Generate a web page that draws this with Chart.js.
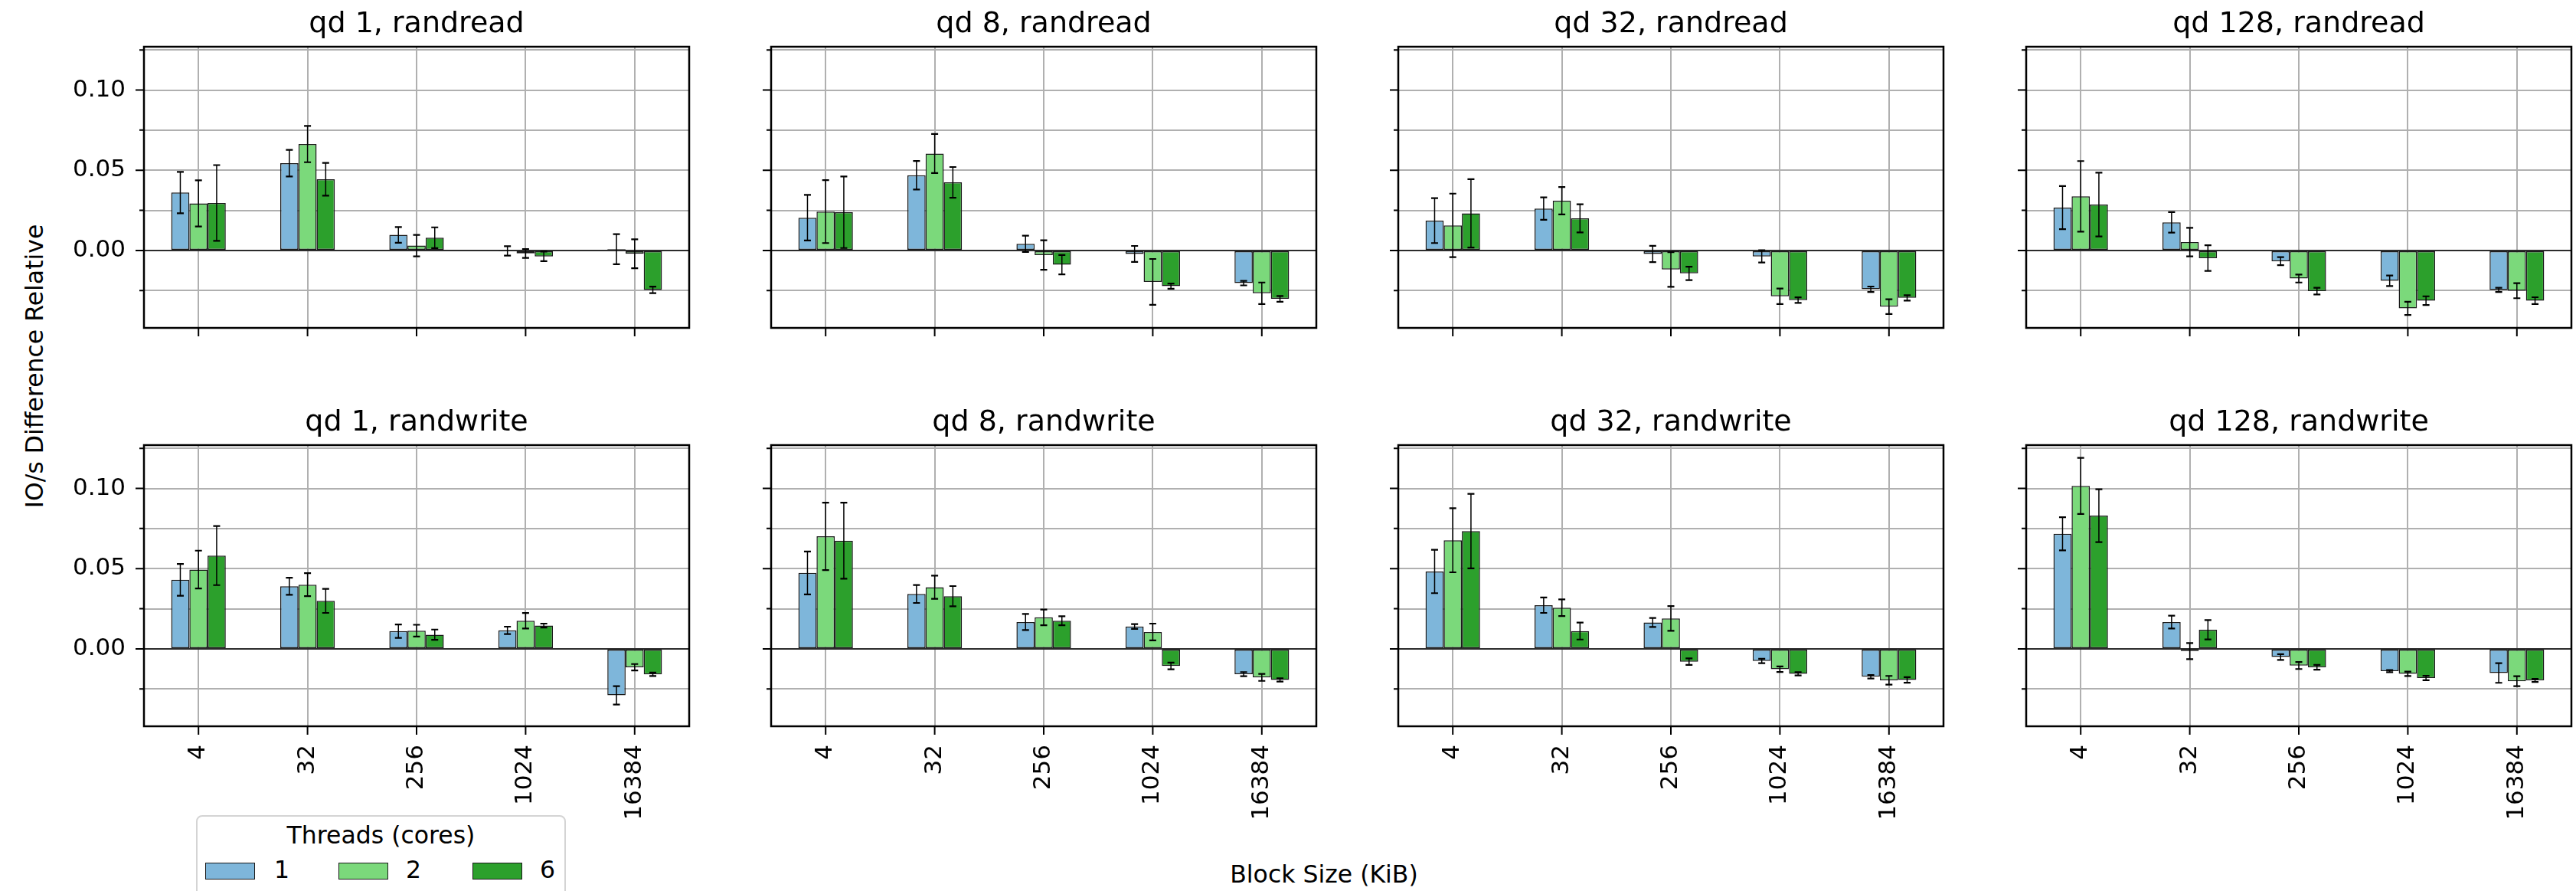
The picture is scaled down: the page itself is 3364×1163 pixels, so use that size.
<!DOCTYPE html>
<html>
<head>
<meta charset="utf-8">
<title>IO/s Difference Relative</title>
<script src="https://cdn.jsdelivr.net/npm/chart.js@4.4.1/dist/chart.umd.min.js"></script>
<style>
    body { margin: 0; background: #fff; }
    #fig {
        position: relative;
        width: 3364px;
        height: 1163px;
        overflow: hidden;
        background: #fff;
        font-family: 'DejaVu Sans', sans-serif;
        color: #000;
    }
    #fig canvas { position: absolute; }
    .txt {
        position: absolute;
        white-space: nowrap;
        font-size: 31.5px;
        line-height: 31.5px;
    }
    #legend {
        position: absolute;
        left: 256px;
        top: 1064px;
        width: 483px;
        height: 140px;
        border: 2px solid #d4d4d4;
        border-radius: 8px;
        box-sizing: border-box;
        background: #fff;
    }
    .patch {
        position: absolute;
        top: 60px;
        width: 65px;
        height: 22px;
        border: 1.5px solid #1a1a1a;
        box-sizing: border-box;
    }
</style>
</head>
<body>
<div id="fig">
    <div class="txt" id="ylabel" style="left:46px; top:478px; transform: translate(-50%, -50%) rotate(-90deg);">IO/s Difference Relative</div>
    <div class="txt" id="xlabel" style="left:1729px; top:1126px; transform: translateX(-50%);">Block Size (KiB)</div>
    <div id="legend">
        <div class="txt" style="left:0; width:100%; top:9px; text-align:center;">Threads (cores)</div>
    </div>
</div>

<script>
// categories / series
const blockSizes = ['4', '32', '256', '1024', '16384'];
const threadCounts = ['1', '2', '6'];
const queueDepths = [1, 8, 32, 128];
const workloads = ['randread', 'randwrite'];
const barColors = ['#7eb6da', '#7bd97b', '#2ca02c'];

// shared y axis
const yMin = -0.0483;
const yMax = 0.127;
const yStep = 0.025;
const yLabelStep = 0.05;

// values: one row per thread count (1, 2, 6), one column per block size
const readQd1 = [
    [0.0361, 0.0544, 0.0097, -0.0003, 0.0008],
    [0.0293, 0.0663, 0.0030, -0.0019, -0.0021],
    [0.0296, 0.0444, 0.0079, -0.0037, -0.0246]
];
const readQd1Err = [
    [0.0129, 0.0083, 0.0049, 0.0029, 0.0094],
    [0.0144, 0.0113, 0.0067, 0.0028, 0.0090],
    [0.0236, 0.0102, 0.0065, 0.0030, 0.0020]
];
const readQd8 = [
    [0.0204, 0.0469, 0.0041, -0.0022, -0.0204],
    [0.0242, 0.0604, -0.0029, -0.0196, -0.0267],
    [0.0238, 0.0424, -0.0089, -0.0223, -0.0302]
];
const readQd8Err = [
    [0.0142, 0.0089, 0.0051, 0.0050, 0.0014],
    [0.0196, 0.0122, 0.0092, 0.0143, 0.0067],
    [0.0223, 0.0096, 0.0060, 0.0016, 0.0018]
];
const readQd32 = [
    [0.0186, 0.0261, -0.0022, -0.0037, -0.0242],
    [0.0156, 0.0310, -0.0119, -0.0286, -0.0350],
    [0.0231, 0.0200, -0.0143, -0.0310, -0.0296]
];
const readQd32Err = [
    [0.0140, 0.0070, 0.0051, 0.0038, 0.0017],
    [0.0198, 0.0085, 0.0108, 0.0048, 0.0046],
    [0.0213, 0.0088, 0.0042, 0.0017, 0.0017]
];
const readQd128 = [
    [0.0267, 0.0175, -0.0067, -0.0189, -0.0246],
    [0.0337, 0.0052, -0.0175, -0.0361, -0.0251],
    [0.0286, -0.0048, -0.0254, -0.0313, -0.0313]
];
const readQd128Err = [
    [0.0134, 0.0064, 0.0025, 0.0033, 0.0013],
    [0.0220, 0.0089, 0.0025, 0.0041, 0.0047],
    [0.0199, 0.0080, 0.0021, 0.0027, 0.0021]
];
const writeQd1 = [
    [0.0430, 0.0390, 0.0110, 0.0115, -0.0290],
    [0.0494, 0.0400, 0.0113, 0.0175, -0.0115],
    [0.0581, 0.0299, 0.0088, 0.0145, -0.0159]
];
const writeQd1Err = [
    [0.0099, 0.0053, 0.0042, 0.0023, 0.0057],
    [0.0118, 0.0072, 0.0037, 0.0048, 0.0020],
    [0.0184, 0.0075, 0.0032, 0.0012, 0.0011]
];
const writeQd8 = [
    [0.0473, 0.0342, 0.0167, 0.0139, -0.0158],
    [0.0701, 0.0384, 0.0196, 0.0105, -0.0178],
    [0.0674, 0.0328, 0.0175, -0.0107, -0.0194]
];
const writeQd8Err = [
    [0.0134, 0.0056, 0.0050, 0.0015, 0.0013],
    [0.0210, 0.0072, 0.0049, 0.0052, 0.0022],
    [0.0237, 0.0063, 0.0028, 0.0021, 0.0010]
];
const writeQd32 = [
    [0.0482, 0.0272, 0.0164, -0.0076, -0.0174],
    [0.0677, 0.0256, 0.0189, -0.0127, -0.0196],
    [0.0734, 0.0111, -0.0080, -0.0156, -0.0194]
];
const writeQd32Err = [
    [0.0135, 0.0048, 0.0028, 0.0014, 0.0011],
    [0.0200, 0.0052, 0.0077, 0.0017, 0.0027],
    [0.0232, 0.0053, 0.0020, 0.0010, 0.0017]
];
const writeQd128 = [
    [0.0717, 0.0167, -0.0051, -0.0139, -0.0151],
    [0.1016, -0.0014, -0.0104, -0.0156, -0.0202],
    [0.0830, 0.0119, -0.0115, -0.0182, -0.0197]
];
const writeQd128Err = [
    [0.0103, 0.0040, 0.0018, 0.0007, 0.0061],
    [0.0175, 0.0050, 0.0022, 0.0014, 0.0031],
    [0.0165, 0.0060, 0.0015, 0.0014, 0.0010]
];

const panelValues = [
    [readQd1, readQd8, readQd32, readQd128],
    [writeQd1, writeQd8, writeQd32, writeQd128]
];
const panelErrors = [
    [readQd1Err, readQd8Err, readQd32Err, readQd128Err],
    [writeQd1Err, writeQd8Err, writeQd32Err, writeQd128Err]
];

// layout of the 2x4 grid (plot area in page pixels)
const areaLefts = [188, 1007, 1826, 2646];
const areaTops = [61, 581];
const areaWidth = 712;
const areaHeight = 367;
const marginLeft = 170;
const marginTop = 60;
const marginRight = 20;
const marginBottom = [30, 200];

Chart.defaults.font.family = "'DejaVu Sans', sans-serif";
Chart.defaults.font.size = 31;
Chart.defaults.color = '#000';

function isMajor(v) {
    const r = v / yLabelStep;
    return Math.abs(r - Math.round(r)) < 1e-6;
}

// spines, tick marks, zero line, error bars and the subplot title
const axesDecor = {
    id: 'axesDecor',
    afterDatasetsDraw(chart) {
        const { ctx, chartArea: a, scales: { y } } = chart;
        ctx.save();
        const y0 = y.getPixelForValue(0);
        ctx.strokeStyle = '#000';
        ctx.lineWidth = 1.5;
        ctx.beginPath();
        ctx.moveTo(a.left, y0);
        ctx.lineTo(a.right, y0);
        ctx.stroke();

        chart.data.datasets.forEach((ds, i) => {
            chart.getDatasetMeta(i).data.forEach((bar, j) => {
                const v = ds.data[j];
                const e = ds.errors[j];
                const top = y.getPixelForValue(v + e);
                const bot = y.getPixelForValue(v - e);
                ctx.lineWidth = 1.5;
                ctx.beginPath();
                ctx.moveTo(bar.x, top);
                ctx.lineTo(bar.x, bot);
                ctx.stroke();
                ctx.lineWidth = 2.2;
                ctx.beginPath();
                ctx.moveTo(bar.x - 4.5, top);
                ctx.lineTo(bar.x + 4.5, top);
                ctx.moveTo(bar.x - 4.5, bot);
                ctx.lineTo(bar.x + 4.5, bot);
                ctx.stroke();
            });
        });
        ctx.restore();
    },
    afterDraw(chart, args, opts) {
        const { ctx, chartArea: a, scales: { x, y } } = chart;
        ctx.save();
        ctx.strokeStyle = '#000';
        ctx.lineWidth = 2;
        ctx.beginPath();
        y.ticks.forEach(t => {
            const py = y.getPixelForValue(t.value);
            const len = isMajor(t.value) ? 11 : 6;
            ctx.moveTo(a.left - len, py);
            ctx.lineTo(a.left, py);
        });
        blockSizes.forEach((b, i) => {
            const px = x.getPixelForValue(i);
            ctx.moveTo(px, a.bottom);
            ctx.lineTo(px, a.bottom + 11);
        });
        ctx.stroke();

        ctx.lineWidth = 2.5;
        ctx.strokeRect(a.left, a.top, a.right - a.left, a.bottom - a.top);

        ctx.fillStyle = '#000';
        ctx.font = "38px 'DejaVu Sans', sans-serif";
        ctx.textAlign = 'center';
        ctx.textBaseline = 'alphabetic';
        ctx.fillText(opts.title, (a.left + a.right) / 2, a.top - 19);
        ctx.restore();
    }
};

function makePanel(row, col) {
    const fig = document.getElementById('fig');
    const canvas = document.createElement('canvas');
    const w = marginLeft + areaWidth + marginRight;
    const h = marginTop + areaHeight + marginBottom[row];
    canvas.width = w;
    canvas.height = h;
    canvas.style.left = (areaLefts[col] - marginLeft) + 'px';
    canvas.style.top = (areaTops[row] - marginTop) + 'px';
    canvas.style.width = w + 'px';
    canvas.style.height = h + 'px';
    fig.appendChild(canvas);

    const vals = panelValues[row][col];
    const errs = panelErrors[row][col];
    const gridStyle = { color: '#b0b0b0', lineWidth: 2, drawTicks: false };

    return new Chart(canvas, {
        type: 'bar',
        data: {
            labels: blockSizes,
            datasets: threadCounts.map((t, i) => ({
                label: t,
                data: vals[i],
                errors: errs[i],
                backgroundColor: barColors[i],
                borderColor: '#1a1a1a',
                borderWidth: 1.5,
                borderSkipped: false,
                categoryPercentage: 0.5,
                barPercentage: 1.0
            }))
        },
        options: {
            responsive: false,
            animation: false,
            devicePixelRatio: 1,
            layout: { padding: { left: 0, top: marginTop, right: marginRight, bottom: 0 } },
            plugins: {
                legend: { display: false },
                tooltip: { enabled: false },
                axesDecor: { title: 'qd ' + queueDepths[col] + ', ' + workloads[row] }
            },
            scales: {
                x: {
                    grid: Object.assign({ offset: false }, gridStyle),
                    border: { display: false },
                    ticks: {
                        display: row === 1,
                        autoSkip: false,
                        minRotation: 90,
                        maxRotation: 90,
                        padding: 24,
                        font: { size: 31 }
                    },
                    afterFit: s => {
                        s.height = marginBottom[row];
                        s.paddingLeft = 0;
                        s.paddingRight = 0;
                    }
                },
                y: {
                    min: yMin,
                    max: yMax,
                    grid: gridStyle,
                    border: { display: false },
                    ticks: {
                        display: col === 0,
                        stepSize: yStep,
                        includeBounds: false,
                        padding: 24,
                        font: { size: 31 },
                        callback: v => isMajor(v) ? v.toFixed(2) : ''
                    },
                    afterFit: s => {
                        s.width = marginLeft;
                        s.paddingTop = 0;
                        s.paddingBottom = 0;
                    }
                }
            }
        },
        plugins: [axesDecor]
    });
}

// legend entries (same colours as the bars)
function buildLegend() {
    const legend = document.getElementById('legend');
    const patchLefts = [10, 184, 359];
    const labelLefts = [100, 272, 447];
    threadCounts.forEach((t, i) => {
        const p = document.createElement('div');
        p.className = 'patch';
        p.style.left = patchLefts[i] + 'px';
        p.style.background = barColors[i];
        legend.appendChild(p);
        const l = document.createElement('div');
        l.className = 'txt';
        l.style.left = labelLefts[i] + 'px';
        l.style.top = '54px';
        l.textContent = t;
        legend.appendChild(l);
    });
}

for (let r = 0; r < 2; r++) {
    for (let c = 0; c < 4; c++) {
        makePanel(r, c);
    }
}
buildLegend();
</script>
</body>
</html>
